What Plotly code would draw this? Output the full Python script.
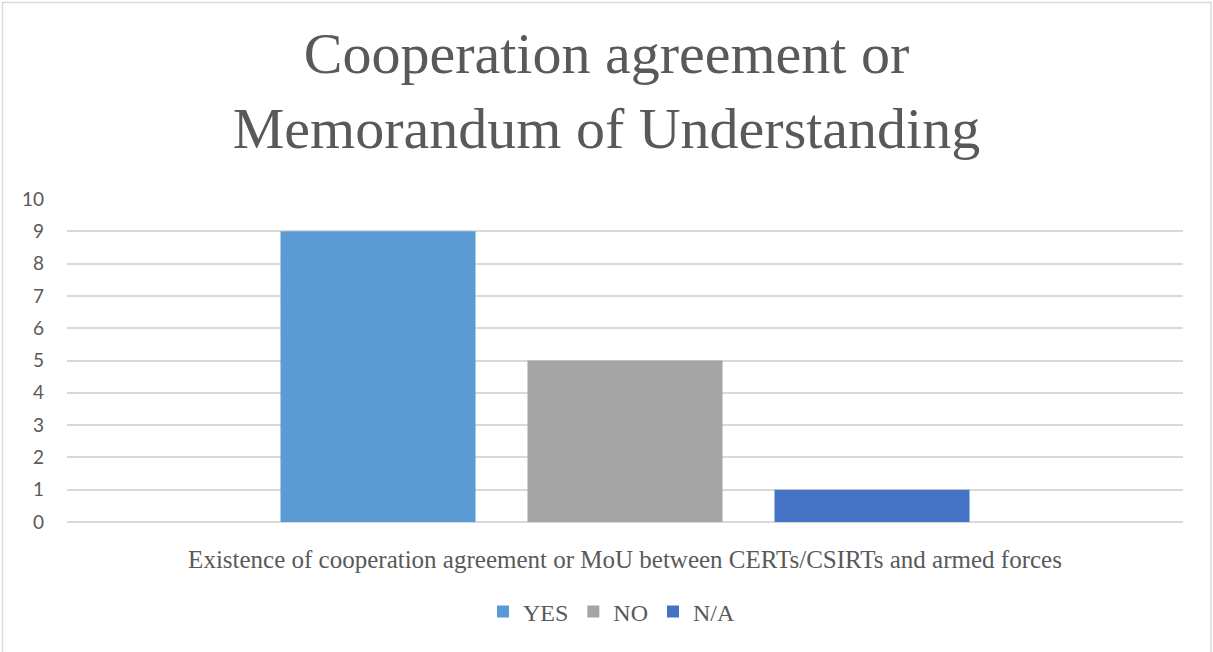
import plotly.graph_objects as go

# Survey answers for a single question
category = ["Existence of cooperation agreement or MoU between CERTs/CSIRTs and armed forces"]
series_names = ["YES", "NO", "N/A"]
series_values = [9, 5, 1]
series_colors = ["#5B9BD5", "#A5A5A5", "#4472C4"]
y_ticks = list(range(0, 11))

W, H = 1213, 652
L, R, T, B = 67, 30, 199, 130
plot_w = W - L - R
plot_h = H - T - B

TEXT = "#595959"
GRID = "#D9D9D9"
SERIF = "Liberation Serif, Times New Roman, serif"
SANS = "Lato, Liberation Sans, Arial, sans-serif"

fig = go.Figure()
for name, val, col in zip(series_names, series_values, series_colors):
    fig.add_trace(go.Bar(name=name, x=category, y=[val], marker=dict(color=col, line=dict(width=0))))

# outer chart frame (pixel positions converted to paper coordinates)
def px_x(px):
    return (px - L) / plot_w

def px_y(py):
    return (H - B - py) / plot_h

fig.add_shape(type="rect", xref="paper", yref="paper",
              x0=px_x(2.5), x1=px_x(1211), y0=px_y(680), y1=px_y(2.5),
              line=dict(color=GRID, width=1.5), fillcolor="rgba(0,0,0,0)", layer="below")

fig.update_layout(
    width=W, height=H,
    margin=dict(l=L, r=R, t=T, b=B, autoexpand=False),
    paper_bgcolor="white", plot_bgcolor="white",
    barmode="group", bargap=0.336, bargroupgap=0.2105,
    title=dict(text="Cooperation agreement or<br>Memorandum of Understanding",
               x=0.5, xref="container", xanchor="center",
               y=1 - 73 / H, yref="container", yanchor="top",
               font=dict(family=SERIF, size=58, color=TEXT)),
    legend=dict(orientation="h", x=px_x(612), xanchor="center", y=px_y(612), yanchor="middle",
                font=dict(family=SERIF, size=24, color=TEXT), traceorder="normal",
                itemwidth=30, bgcolor="rgba(0,0,0,0)"),
    showlegend=True,
)
fig.update_xaxes(showgrid=False, showline=False, zeroline=False, ticks="",
                 tickfont=dict(family=SERIF, size=25, color=TEXT), ticklabelstandoff=20)
fig.update_yaxes(range=[0, 10], tickvals=y_ticks, showgrid=True, gridcolor=GRID, gridwidth=1.5,
                 zeroline=True, zerolinecolor=GRID, zerolinewidth=1.5, showline=False, ticks="",
                 tickfont=dict(family=SANS, size=19, color=TEXT), ticklabelstandoff=22)

fig.write_html("out.html")
